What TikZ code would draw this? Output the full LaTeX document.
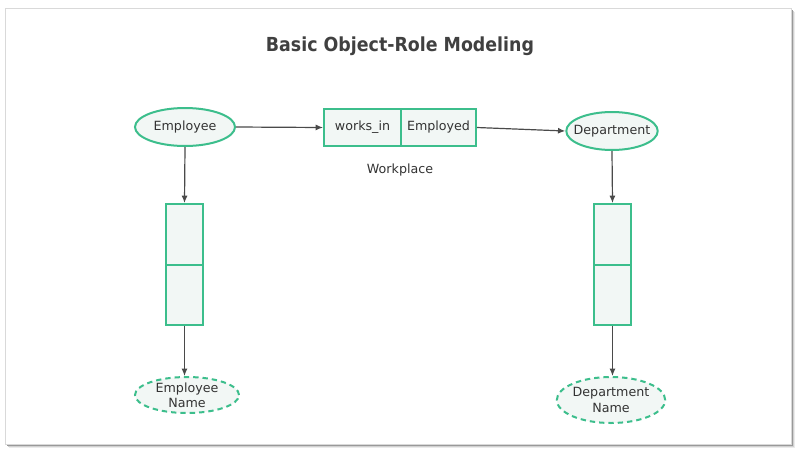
\documentclass[tikz,border=0pt]{standalone}
\usepackage{fontspec}
\setmainfont{DejaVu Sans}
\newfontfamily\titlefont[FakeStretch=0.9]{DejaVu Sans}
\usetikzlibrary{shapes.geometric,arrows.meta}
\definecolor{ormgreen}{HTML}{3CBE8C}
\definecolor{ormfill}{HTML}{F2F7F5}
\definecolor{ormline}{HTML}{4A4A4A}
\definecolor{ormtext}{HTML}{333333}
\tikzset{
  objtype/.style={ellipse,draw=ormgreen,fill=ormfill,line width=1.5pt,inner sep=0pt,
    text=ormtext,font=\fontsize{9.5}{11.5}\selectfont,align=center},
  valtype/.style={objtype,dashed,dash pattern=on 4pt off 3pt},
  rolebox/.style={rectangle,draw=ormgreen,fill=ormfill,line width=1.5pt,inner sep=0pt,
    text=ormtext,font=\fontsize{9.5}{11.5}\selectfont},
  conn/.style={draw=ormline,line width=0.9pt,-{Latex[length=5.5pt,width=4.5pt]}},
  lbl/.style={text=ormtext,font=\fontsize{9.5}{11.5}\selectfont}
}
\begin{document}
\begin{tikzpicture}[x=0.75pt,y=-0.75pt]
\useasboundingbox (0,0) rectangle (800,454);
% page frame with shadow
\fill[black!8] (9,12) rectangle (795,448);
\fill[black!18] (8,11) rectangle (794,447);
\fill[black!40] (7,10) rectangle (793,446);
\fill[white,draw=black!15,line width=0.5pt] (5,8) rectangle (791,444);
% title
\node[font=\titlefont\bfseries\fontsize{14.5}{17}\selectfont,text=black!75] (title) at (400,46) {Basic Object-Role Modeling};
% object types
\node[objtype,minimum width=100*0.75pt,minimum height=38*0.75pt] (emp) at (185,127) {Employee};
\node[objtype,inner xsep=-4.5pt,minimum width=90*0.75pt,minimum height=38*0.75pt] (dept) at (612,131) {Department};
% fact type
\node[rolebox,minimum width=77*0.75pt,minimum height=37*0.75pt] (works) at (362.5,127.5) {works\_in};
\node[rolebox,minimum width=75*0.75pt,minimum height=37*0.75pt] (employed) at (438.5,127.5) {Employed};
\node[lbl] (workplace) at (400,170) {Workplace};
% left role boxes
\node[rolebox,minimum width=37*0.75pt,minimum height=61*0.75pt] (lt) at (184.5,234.5) {};
\node[rolebox,minimum width=37*0.75pt,minimum height=60*0.75pt] (lb) at (184.5,295) {};
% right role boxes
\node[rolebox,minimum width=37*0.75pt,minimum height=61*0.75pt] (rt) at (612.5,234.5) {};
\node[rolebox,minimum width=37*0.75pt,minimum height=60*0.75pt] (rb) at (612.5,295) {};
% value types
\node[valtype,minimum width=104*0.75pt,minimum height=36*0.75pt] (empname) at (187,395) {Employee\\Name};
\node[valtype,minimum width=106*0.75pt,minimum height=46*0.75pt] (deptname) at (611,400) {Department\\Name};
% connectors
\draw[conn] (emp.east) -- (works.west);
\draw[conn] (employed.east) -- (dept.west);
\draw[conn] (emp.south) -- (lt.north);
\draw[conn] (dept.south) -- (rt.north);
\draw[conn] (lb.south) -- (lb.south |- empname.north);
\draw[conn] (rb.south) -- (rb.south |- deptname.north);
\end{tikzpicture}
\end{document}
